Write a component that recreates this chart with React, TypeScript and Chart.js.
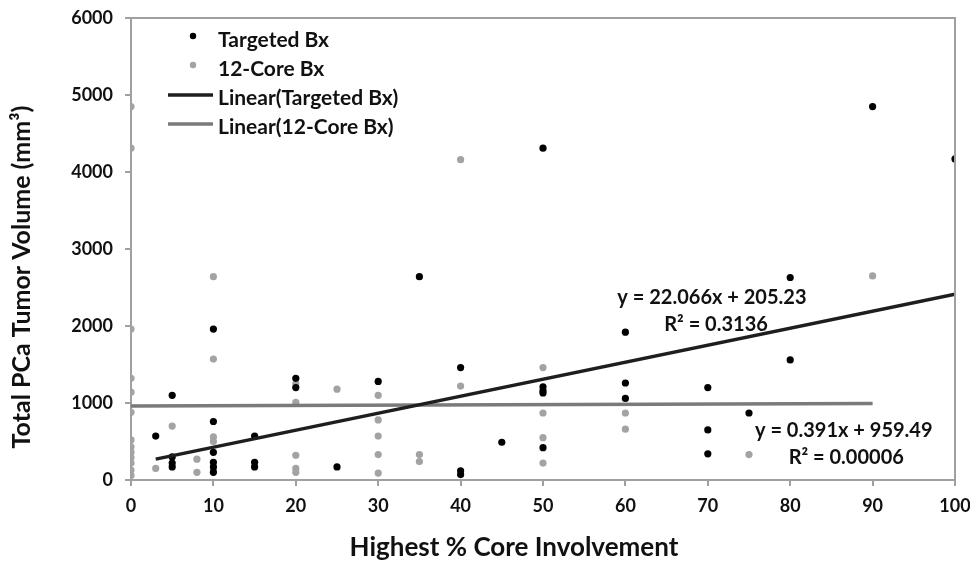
import React, { useEffect, useRef } from "react";
import { Chart, registerables } from "chart.js";

Chart.register(...registerables);

const targetedX = [3, 5, 5, 5, 5, 10, 10, 10, 10, 10, 10, 15, 15, 15, 20, 20, 25, 30, 35, 40, 40, 40, 45, 50, 50, 50, 50, 50, 60, 60, 60, 70, 70, 70, 75, 80, 80, 90, 100];
const targetedY = [570, 1100, 300, 220, 170, 1960, 760, 360, 230, 170, 100, 570, 230, 170, 1320, 1200, 170, 1280, 2640, 1460, 120, 70, 490, 4310, 1210, 1160, 1130, 420, 1920, 1260, 1060, 1200, 650, 340, 870, 2630, 1560, 4850, 4170];

const coreX = [0, 0, 0, 0, 0, 0, 0, 0, 0, 0, 0, 0, 0, 3, 5, 8, 8, 10, 10, 10, 10, 10, 20, 20, 20, 20, 20, 25, 30, 30, 30, 30, 30, 35, 35, 40, 40, 50, 50, 50, 50, 60, 60, 75, 90];
const coreY = [4850, 4310, 1960, 1320, 1140, 880, 520, 430, 360, 290, 220, 130, 60, 150, 700, 270, 100, 2640, 1570, 560, 500, 130, 1250, 1010, 320, 150, 100, 1180, 1100, 780, 570, 330, 90, 330, 240, 4160, 1220, 1460, 870, 550, 220, 870, 660, 330, 2650];

const trendTargeted = { slope: 22.066, intercept: 205.23, from: 3, to: 100 };
const trendCore = { slope: 0.391, intercept: 959.49, from: 0, to: 90 };

const xTicks = [0, 10, 20, 30, 40, 50, 60, 70, 80, 90, 100];
const yTicks = [0, 1000, 2000, 3000, 4000, 5000, 6000];

const seriesLabels = ["Targeted Bx", "12-Core Bx", "Linear(Targeted Bx)", "Linear(12-Core Bx)"];
const xTitle = "Highest % Core Involvement";
const yTitle = "Total PCa Tumor Volume (mm³)";
const annotations = [
  { text: "y = 22.066x + 205.23", x: 70.5, y: 2370 },
  { text: "R² = 0.3136", x: 71, y: 2015 },
  { text: "y = 0.391x + 959.49", x: 86.5, y: 640 },
  { text: "R² = 0.00006", x: 86.8, y: 290 },
];

const FONT = "Lato, 'Open Sans', sans-serif";

export default function App() {
  const ref = useRef<HTMLCanvasElement | null>(null);
  useEffect(() => {
    if (!ref.current) return;
    const pts = (xs: number[], ys: number[]) => xs.map((x, i) => ({ x, y: ys[i] }));
    const trend = (t: any) => [
      { x: t.from, y: t.slope * t.from + t.intercept },
      { x: t.to, y: t.slope * t.to + t.intercept },
    ];
    const extras = {
      id: "extras",
      afterDraw(chart: any) {
        const ctx = chart.ctx;
        const { left, right, top, bottom } = chart.chartArea;
        const xs = chart.scales.x;
        const ys = chart.scales.y;
        ctx.save();
        ctx.strokeStyle = "#a0a0a0";
        ctx.lineWidth = 2;
        ctx.beginPath();
        ctx.moveTo(left, top);
        ctx.lineTo(right, top);
        ctx.lineTo(right, bottom);
        ctx.stroke();
        // axis titles
        ctx.fillStyle = "#111";
        ctx.textAlign = "center";
        ctx.textBaseline = "middle";
        ctx.font = `bold 26px ${FONT}`;
        ctx.fillText(xTitle, 514, 548);
        ctx.save();
        ctx.translate(22, 277);
        ctx.rotate(-Math.PI / 2);
        ctx.font = `bold 25px ${FONT}`;
        ctx.fillText(yTitle, 0, 0);
        ctx.restore();
        // annotations
        ctx.font = `bold 20px ${FONT}`;
        annotations.forEach((a) => {
          ctx.fillText(a.text, xs.getPixelForValue(a.x), ys.getPixelForValue(a.y));
        });
        // legend
        const ds = chart.data.datasets;
        const lx = left + 37;
        const ty = top + 22;
        const rowH = 29;
        ctx.textAlign = "left";
        ctx.font = `bold 21px ${FONT}`;
        ds.forEach((d: any, i: number) => {
          const y = ty + i * rowH;
          if (d.type === "line") {
            ctx.strokeStyle = d.borderColor;
            ctx.lineWidth = 3.5;
            ctx.beginPath();
            ctx.moveTo(lx, y - 3);
            ctx.lineTo(lx + 45, y - 3);
            ctx.stroke();
          } else {
            ctx.fillStyle = d.backgroundColor;
            ctx.beginPath();
            ctx.arc(lx + 25, y - 4, 3.2, 0, Math.PI * 2);
            ctx.fill();
          }
          ctx.fillStyle = "#111";
          ctx.fillText(d.label, lx + 50, y);
        });
        ctx.restore();
      },
    };
    const chart = new Chart(ref.current, {
      type: "scatter",
      data: {
        datasets: [
          {
            label: seriesLabels[0],
            data: pts(targetedX, targetedY),
            backgroundColor: "#000",
            borderColor: "#000",
            pointRadius: 3.6,
            pointBorderWidth: 0,
            order: 1,
          },
          {
            label: seriesLabels[1],
            data: pts(coreX, coreY),
            backgroundColor: "#a3a3a3",
            borderColor: "#a3a3a3",
            pointRadius: 3.6,
            pointBorderWidth: 0,
            order: 2,
          },
          {
            type: "line",
            label: seriesLabels[2],
            data: trend(trendTargeted),
            borderColor: "#1e1e1e",
            borderWidth: 3.5,
            pointRadius: 0,
            fill: false,
            order: 0,
          } as any,
          {
            type: "line",
            label: seriesLabels[3],
            data: trend(trendCore),
            borderColor: "#7a7a7a",
            borderWidth: 3.5,
            pointRadius: 0,
            fill: false,
            order: 0,
          } as any,
        ],
      },
      options: {
        animation: false,
        responsive: false,
        maintainAspectRatio: false,
        layout: { padding: { top: 18, right: 15, left: 0, bottom: 0 } },
        plugins: { legend: { display: false }, tooltip: { enabled: false } },
        scales: {
          x: {
            type: "linear",
            min: 0,
            max: 100,
            afterBuildTicks: (s: any) => { s.ticks = xTicks.map((v) => ({ value: v })); },
            afterFit: (s: any) => { s.height = 81; s.paddingLeft = 0; s.paddingRight = 0; },
            grid: { display: true, drawOnChartArea: false, drawTicks: true, tickLength: 6, color: "#a0a0a0", lineWidth: 2 },
            border: { display: true, color: "#a0a0a0", width: 2 },
            ticks: { color: "#111", font: { family: FONT, weight: "bold", size: 18 }, padding: 9, maxRotation: 0, callback: (v: any) => String(v) },
            title: { display: false },
          },
          y: {
            type: "linear",
            min: 0,
            max: 6000,
            afterBuildTicks: (s: any) => { s.ticks = yTicks.map((v) => ({ value: v })); },
            afterFit: (s: any) => { s.width = 131; s.paddingTop = 0; s.paddingBottom = 0; },
            grid: { display: true, drawOnChartArea: false, drawTicks: true, tickLength: 6, color: "#a0a0a0", lineWidth: 2 },
            border: { display: true, color: "#a0a0a0", width: 2 },
            ticks: { color: "#111", font: { family: FONT, weight: "bold", size: 18 }, padding: 12, callback: (v: any) => String(v) },
            title: { display: false },
          },
        },
      } as any,
      plugins: [extras],
    });
    return () => chart.destroy();
  }, []);
  return (
    <div style={{ position: "fixed", left: 0, top: 0, width: 970, height: 561, background: "#fff" }}>
      <canvas ref={ref} width={970} height={561} style={{ width: 970, height: 561, display: "block" }} />
    </div>
  );
}
